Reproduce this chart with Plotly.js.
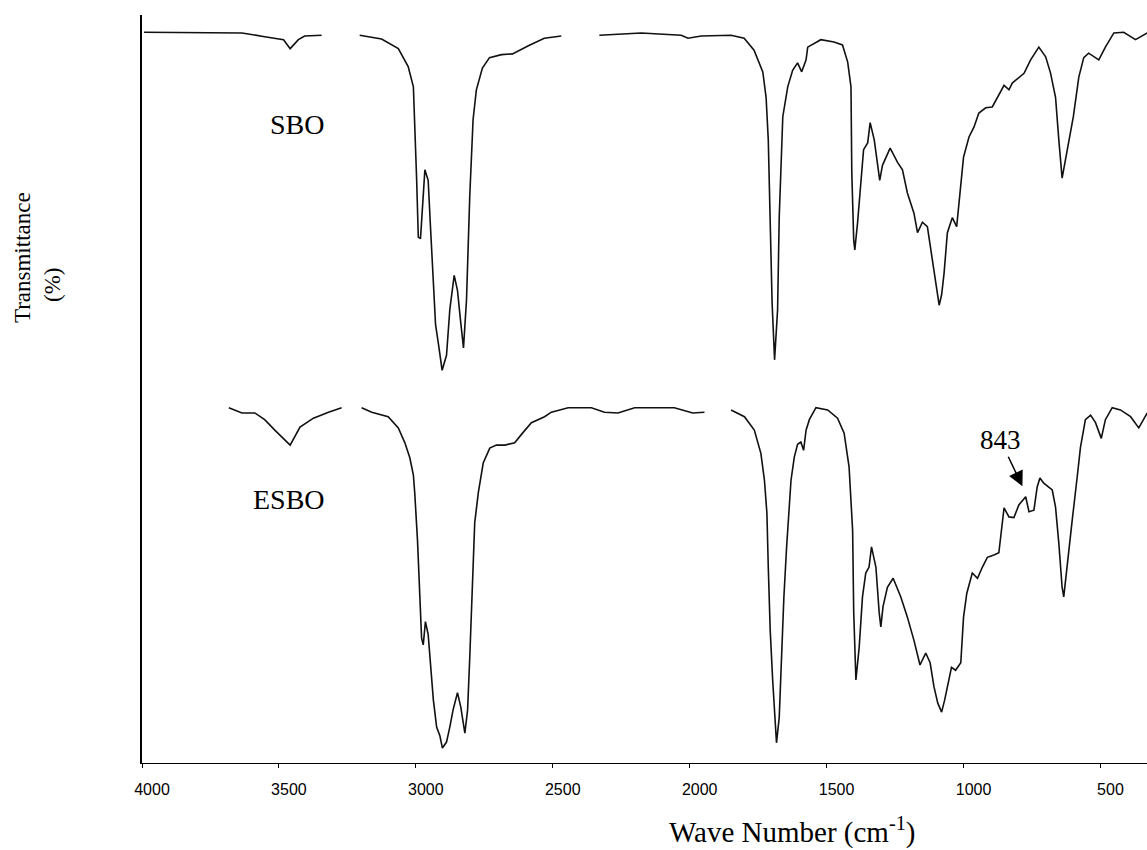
<!DOCTYPE html>
<html>
<head>
<meta charset="utf-8">
<script src="https://cdn.plot.ly/plotly-3.0.1.min.js"></script>
<style>html,body{margin:0;padding:0;background:#fff;}#chart{width:1147px;height:850px;}</style>
</head>
<body>
<div id="chart"></div>
<script>
// Wavenumbers (cm-1) and offset transmittance (%)
const sboWave = [3993,3781,3635,3552,3483,3459,3429,3406,3344,null,3205,3125,3064,3028,3009,3004,2997,2991,2983,2967,2955,2946,2936,2928,2917,2904,2888,2876,2860,2848,2837,2826,2815,2803,2791,2779,2757,2731,2687,2647,2589,2531,2469,null,2330,2177,2031,2006,1958,1849,1801,1765,1733,1721,1713,1706,1699,1690,1679,1673,1660,1642,1624,1606,1591,1575,1569,1521,1473,1442,1423,1411,1408,1401,1397,1387,1375,1365,1350,1341,1326,1314,1306,1296,1268,1241,1223,1205,1181,1168,1150,1132,1113,1101,1089,1080,1071,1059,1041,1025,1013,1000,980,962,944,919,895,876,852,834,822,779,755,725,700,682,664,652,640,621,599,579,561,543,506,482,451,415,372,329];
const sboT = [97.7,97.7,97.6,97.1,96.7,95.5,96.7,97.2,97.3,null,97.3,96.8,95.5,93.1,90.4,85.6,77.9,70.3,70.1,79.3,77.9,71.3,63.2,58.6,55.9,52.5,54.5,60.6,65.2,63.2,59.2,55.5,61.9,75.9,86.0,90.0,92.9,94.3,94.7,94.8,95.9,96.9,97.2,null,97.3,97.6,97.3,96.9,97.2,97.3,96.9,95.3,92.4,89.0,83.3,73.9,61.5,53.9,60.6,73.0,86.4,90.4,92.6,93.6,92.4,94.0,95.7,96.7,96.4,96.0,93.7,90.4,78.9,69.9,68.6,72.2,77.0,82.0,82.9,85.6,83.3,79.7,77.9,79.9,82.2,80.3,79.3,76.2,73.5,70.9,72.3,71.7,67.2,63.9,61.2,62.6,65.5,70.9,72.9,71.7,76.2,81.0,83.7,85.0,86.9,87.6,87.7,89.0,90.6,90.0,90.9,92.2,94.0,95.7,94.4,92.2,89.0,83.3,78.2,82.0,86.4,91.7,94.3,94.9,94.0,95.7,97.6,97.7,96.7,97.6];

const esboWave = [3683,3635,3588,3552,3515,3459,3423,3374,3319,3271,null,3198,3161,3101,3064,3040,3022,3009,3004,2994,2985,2979,2973,2965,2955,2945,2936,2924,2912,2903,2888,2876,2864,2848,2836,2821,2811,2803,2794,2785,2772,2754,2730,2706,2675,2639,2615,2578,2530,2505,2444,2359,2311,2262,2201,2128,2056,1989,1946,null,1849,1800,1764,1740,1727,1718,1713,1706,1697,1691,1683,1673,1665,1656,1646,1636,1630,1618,1606,1594,1584,1575,1563,1539,1496,1460,1436,1418,1405,1401,1393,1381,1369,1357,1345,1336,1320,1308,1302,1294,1278,1257,1229,1205,1181,1159,1138,1122,1108,1094,1080,1069,1059,1044,1029,1010,1000,988,968,949,931,913,889,871,852,834,816,798,773,761,743,731,721,707,676,664,652,640,634,621,603,585,573,555,536,518,497,482,457,427,390,360,329];
const esboT = [47.5,46.8,46.8,45.9,44.5,42.5,44.9,46.1,46.9,47.5,null,47.5,46.9,46.3,44.8,42.8,40.8,38.5,36.1,29.8,22.7,16.7,15.8,18.9,17.2,12.0,8.4,4.8,3.6,2.0,2.8,4.8,7.1,9.4,7.5,4.0,7.1,14.2,24.5,32.1,36.1,40.1,42.1,42.5,42.5,42.8,43.9,45.5,46.3,46.9,47.5,47.5,46.9,46.8,47.5,47.5,47.5,46.8,46.9,null,47.2,46.3,44.5,41.4,37.8,33.4,26.2,17.8,11.1,6.7,2.7,6.1,13.8,22.2,28.9,35.6,37.8,40.9,42.6,42.9,41.8,44.5,45.9,47.5,47.2,46.1,44.1,39.6,31.1,20.1,11.1,15.5,22.2,25.4,26.2,28.9,26.2,20.1,18.2,20.9,23.5,24.7,22.2,19.5,16.4,13.1,14.7,13.4,10.2,8.0,6.8,8.4,10.2,12.8,12.4,13.4,19.5,22.7,25.4,24.7,26.2,27.5,27.8,28.1,34.1,32.9,32.8,34.5,35.6,33.6,33.8,36.9,38.1,37.4,36.5,34.2,29.4,23.5,22.2,26.7,32.5,38.2,42.2,45.9,46.5,45.5,43.4,45.9,47.5,47.2,46.3,44.8,46.8];

const tickValues = [4000,3500,3000,2500,2000,1500,1000,500];
const tickLabels = ['4000','3500','3000','2500','2000','1500','1000','500'];

const serif = 'Liberation Serif, Times New Roman, serif';
const sans = 'Liberation Sans, Arial, sans-serif';

const lineStyle = {color: '#111111', width: 1.6};

const data = [
  {x: sboWave, y: sboT, type: 'scatter', mode: 'lines', name: 'SBO', line: lineStyle, connectgaps: false, hoverinfo: 'x+y'},
  {x: esboWave, y: esboT, type: 'scatter', mode: 'lines', name: 'ESBO', line: lineStyle, connectgaps: false, hoverinfo: 'x+y'}
];

const layout = {
  width: 1147, height: 850,
  margin: {l: 142, r: 0, t: 15, b: 87},
  paper_bgcolor: '#ffffff', plot_bgcolor: '#ffffff',
  showlegend: false,
  xaxis: {
    range: [4000, 330],
    tickvals: tickValues, ticktext: tickLabels,
    ticks: 'outside', ticklen: 4, tickwidth: 1, tickcolor: '#000',
    showline: true, linecolor: '#000', linewidth: 1.2,
    showgrid: false, zeroline: false,
    tickfont: {family: sans, size: 16, color: '#000'},
    ticklabelshift: -10,
    ticklabelstandoff: 8
  },
  yaxis: {
    range: [0, 100],
    showline: true, linecolor: '#000', linewidth: 2,
    showticklabels: false, ticks: '',
    showgrid: false, zeroline: false
  },
  annotations: [
    {x: 3433, y: 85.4, xref: 'x', yref: 'y', text: 'SBO', showarrow: false,
     font: {family: serif, size: 28, color: '#000'}},
    {x: 3465, y: 35.2, xref: 'x', yref: 'y', text: 'ESBO', showarrow: false,
     font: {family: serif, size: 28, color: '#000'}},
    {x: 785, y: 37.0, xref: 'x', yref: 'y', text: '843', showarrow: true,
     ax: -22, ay: -46, arrowhead: 2, arrowsize: 2, arrowwidth: 1.5, arrowcolor: '#000', standoff: 0,
     font: {family: serif, size: 27, color: '#000'}},
    {x: 0.647, y: -0.0896, xref: 'paper', yref: 'paper', xanchor: 'center', yanchor: 'middle',
     text: 'Wave Number (cm<sup>-1</sup>)', showarrow: false,
     font: {family: serif, size: 29, color: '#000'}},
    {x: -0.1194, y: 0.675, xref: 'paper', yref: 'paper', xanchor: 'center', yanchor: 'middle',
     text: 'Transmittance', textangle: -90, showarrow: false,
     font: {family: serif, size: 23, color: '#000'}},
    {x: -0.0896, y: 0.639, xref: 'paper', yref: 'paper', xanchor: 'center', yanchor: 'middle',
     text: '(%)', textangle: -90, showarrow: false,
     font: {family: serif, size: 23, color: '#000'}}
  ]
};

Plotly.newPlot('chart', data, layout, {staticPlot: true, displayModeBar: false});
</script>
</body>
</html>
